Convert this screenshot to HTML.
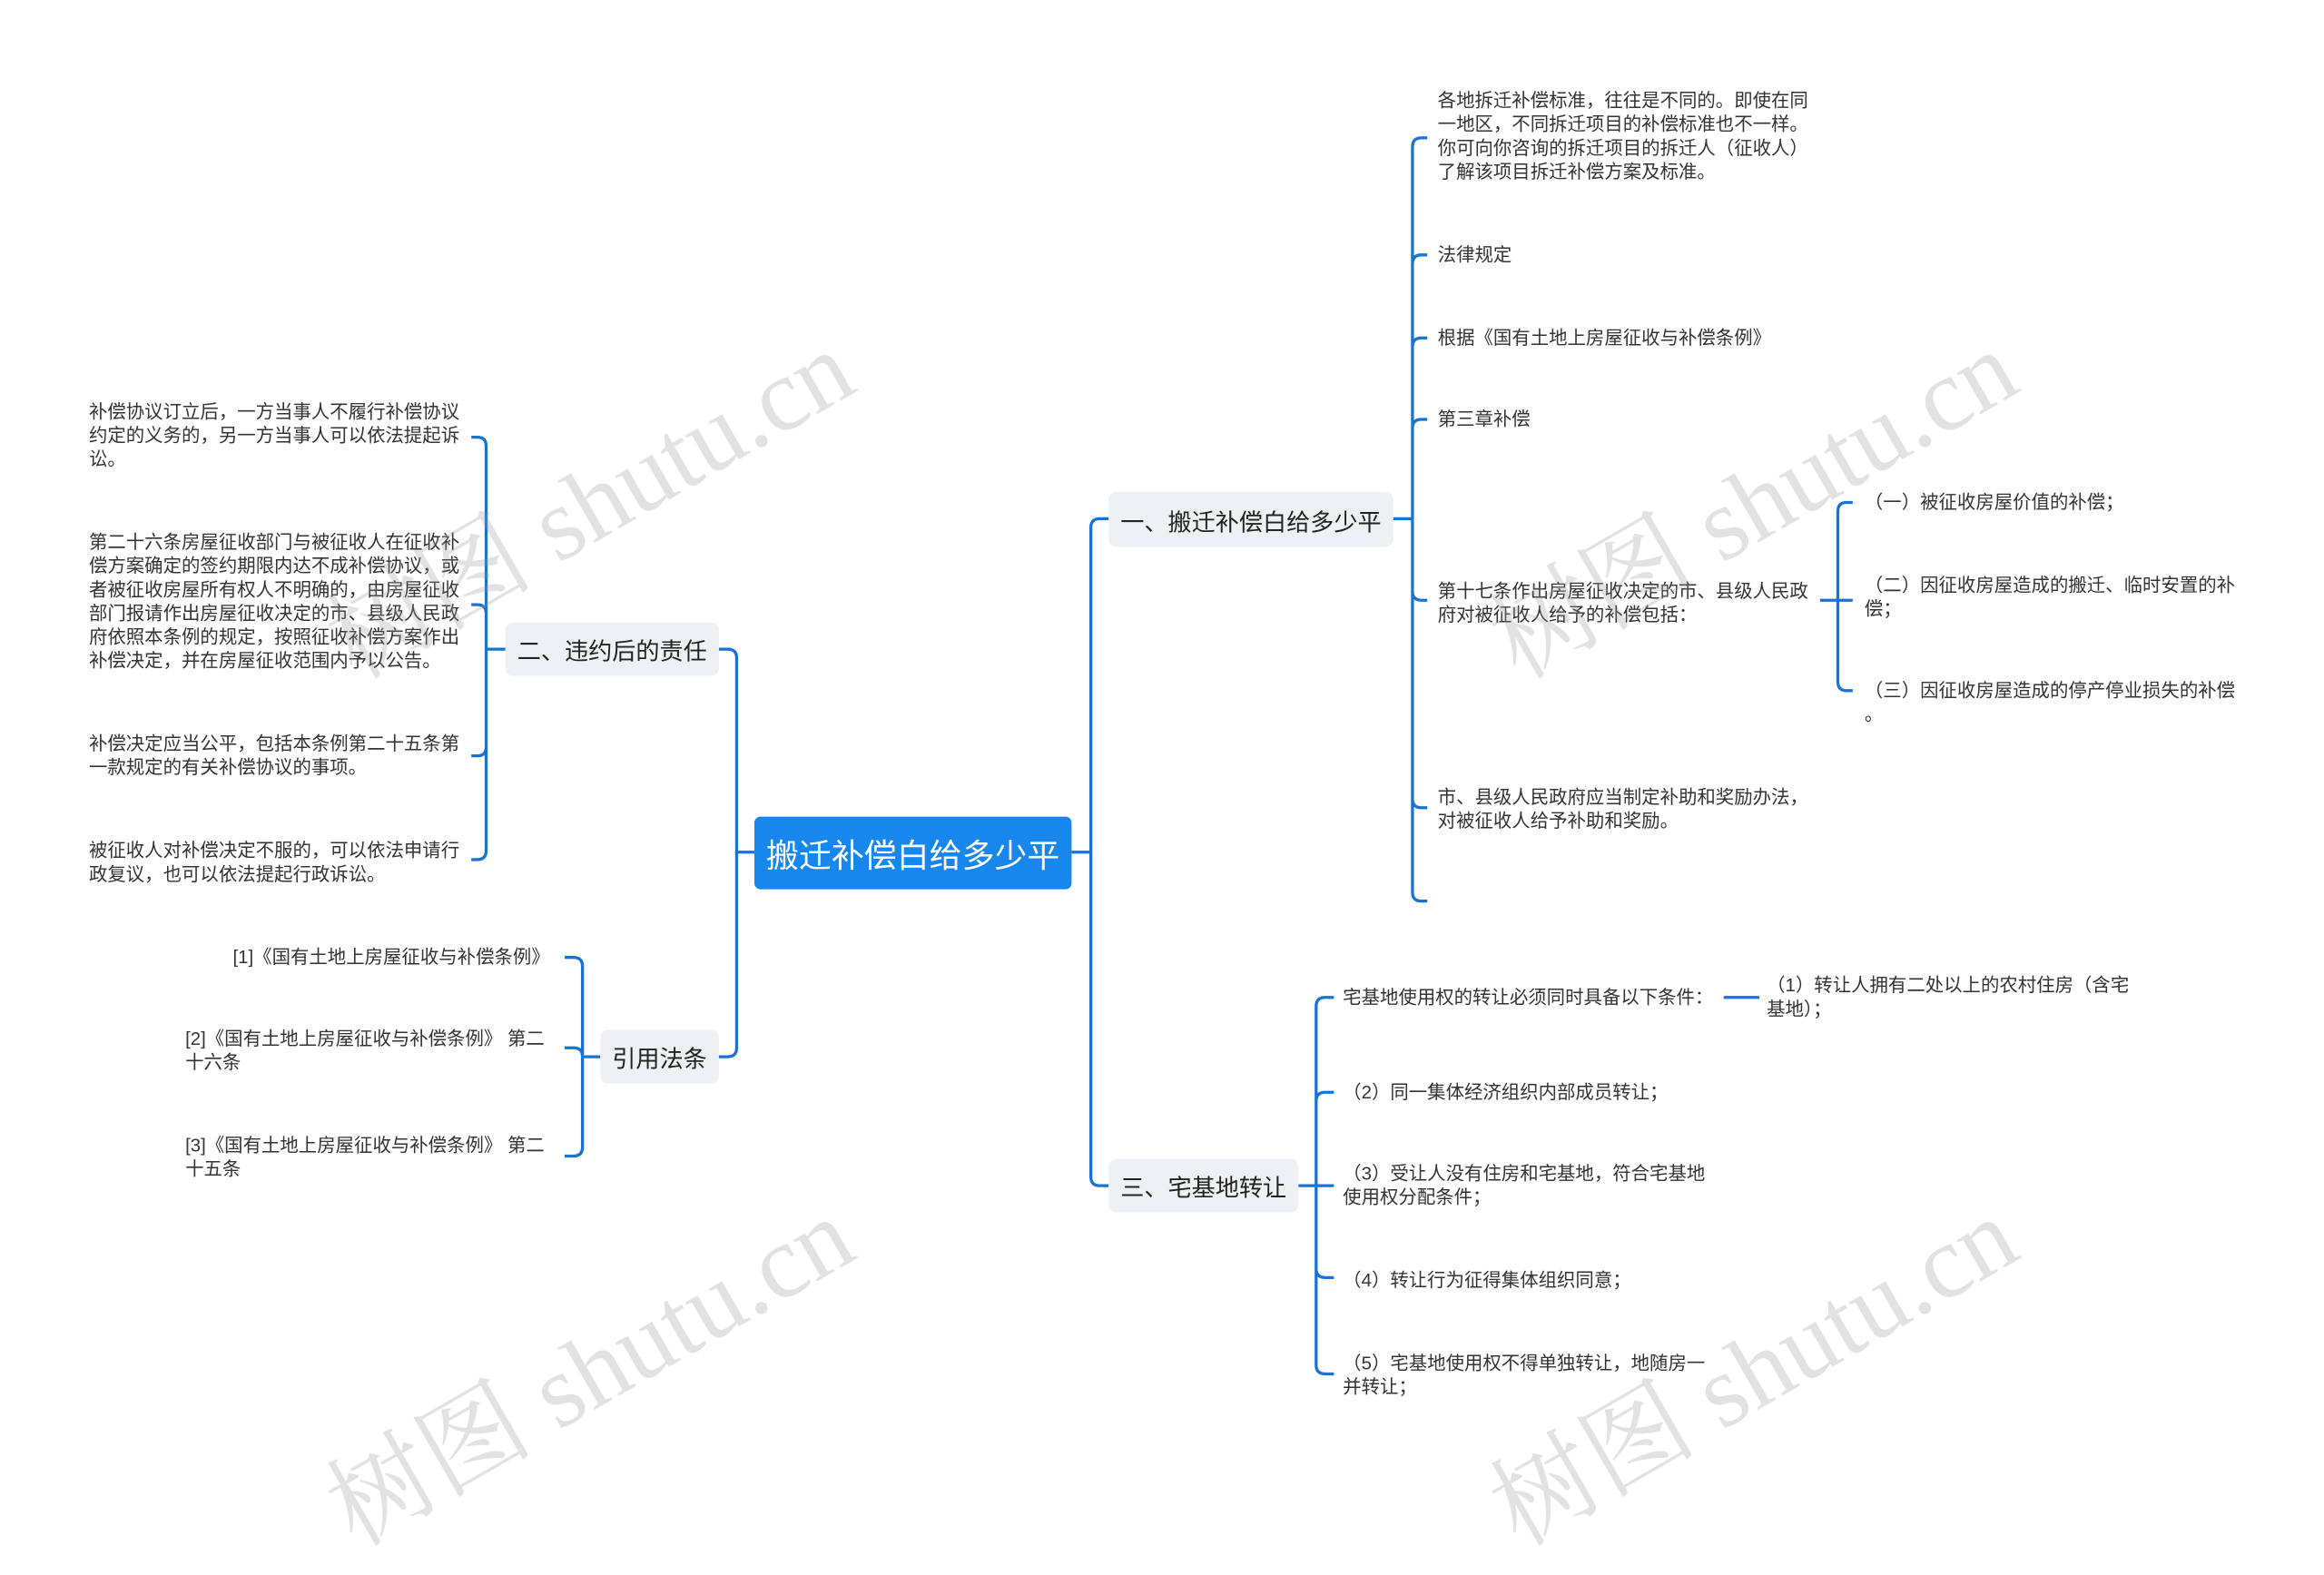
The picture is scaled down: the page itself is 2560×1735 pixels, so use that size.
<!DOCTYPE html>
<html><head><meta charset="utf-8">
<style>
html,body{margin:0;padding:0;background:#fff;}
body{width:2560px;height:1639px;overflow:hidden;position:relative;}
#w{position:absolute;left:0;top:0;width:1568px;height:1004px;transform:scale(1.63265);transform-origin:0 0;font-family:"Liberation Sans","Noto Sans CJK SC",sans-serif;color:#333;}
.t{position:absolute;font-size:12.5px;line-height:16px;white-space:nowrap;}
.r{text-align:right;}
.b{position:absolute;background:#eef0f3;border-radius:5px;font-size:16px;color:#222;display:flex;align-items:center;justify-content:center;}
.root{position:absolute;left:509px;top:551px;width:214px;height:49px;background:#1787ee;border-radius:4px;color:#fff;font-size:22px;display:flex;align-items:center;justify-content:center;}
.wm{position:absolute;font-family:"Liberation Serif","Noto Serif CJK SC",serif;font-size:70px;color:rgba(150,150,150,0.28);transform:rotate(-30deg);transform-origin:0 0;white-space:nowrap;}
svg{position:absolute;left:0;top:0;}
</style></head><body>
<div id="w">
<svg id="s" width="1568" height="1004" viewBox="0 0 1568 1004"></svg>

<div class="root">搬迁补偿白给多少平</div>
<div class="b" style="left:748px;top:332px;width:192px;height:37px;">一、搬迁补偿白给多少平</div>
<div class="b" style="left:748px;top:782px;width:128px;height:36px;">三、宅基地转让</div>
<div class="b" style="left:341px;top:420px;width:144px;height:36px;">二、违约后的责任</div>
<div class="b" style="left:405px;top:695px;width:80px;height:36px;">引用法条</div>

<div class="t" style="left:970px;top:60px;">各地拆迁补偿标准，往往是不同的。即使在同<br>一地区，不同拆迁项目的补偿标准也不一样。<br>你可向你咨询的拆迁项目的拆迁人（征收人）<br>了解该项目拆迁补偿方案及标准。</div>
<div class="t" style="left:970px;top:164px;">法律规定</div>
<div class="t" style="left:970px;top:220px;">根据《国有土地上房屋征收与补偿条例》</div>
<div class="t" style="left:970px;top:275px;">第三章补偿</div>
<div class="t" style="left:970px;top:391px;">第十七条作出房屋征收决定的市、县级人民政<br>府对被征收人给予的补偿包括：</div>
<div class="t" style="left:970px;top:530px;">市、县级人民政府应当制定补助和奖励办法，<br>对被征收人给予补助和奖励。</div>
<div class="t" style="left:1258px;top:331px;">（一）被征收房屋价值的补偿；</div>
<div class="t" style="left:1258px;top:387px;">（二）因征收房屋造成的搬迁、临时安置的补<br>偿；</div>
<div class="t" style="left:1258px;top:458px;">（三）因征收房屋造成的停产停业损失的补偿<br>。</div>

<div class="t" style="left:906px;top:665px;">宅基地使用权的转让必须同时具备以下条件：</div>
<div class="t" style="left:1192px;top:657px;">（1）转让人拥有二处以上的农村住房（含宅<br>基地）；</div>
<div class="t" style="left:906px;top:729px;">（2）同一集体经济组织内部成员转让；</div>
<div class="t" style="left:906px;top:784px;">（3）受让人没有住房和宅基地，符合宅基地<br>使用权分配条件；</div>
<div class="t" style="left:906px;top:856px;">（4）转让行为征得集体组织同意；</div>
<div class="t" style="left:906px;top:912px;">（5）宅基地使用权不得单独转让，地随房一<br>并转让；</div>

<div class="t" style="left:60px;top:270px;">补偿协议订立后，一方当事人不履行补偿协议<br>约定的义务的，另一方当事人可以依法提起诉<br>讼。</div>
<div class="t" style="left:60px;top:358px;">第二十六条房屋征收部门与被征收人在征收补<br>偿方案确定的签约期限内达不成补偿协议，或<br>者被征收房屋所有权人不明确的，由房屋征收<br>部门报请作出房屋征收决定的市、县级人民政<br>府依照本条例的规定，按照征收补偿方案作出<br>补偿决定，并在房屋征收范围内予以公告。</div>
<div class="t" style="left:60px;top:494px;">补偿决定应当公平，包括本条例第二十五条第<br>一款规定的有关补偿协议的事项。</div>
<div class="t" style="left:60px;top:566px;">被征收人对补偿决定不服的，可以依法申请行<br>政复议，也可以依法提起行政诉讼。</div>

<div class="t r" style="right:1197px;top:638px;">[1]《国有土地上房屋征收与补偿条例》</div>
<div class="t" style="left:125px;top:693px;">[2]《国有土地上房屋征收与补偿条例》 第二<br>十六条</div>
<div class="t" style="left:125px;top:765px;">[3]《国有土地上房屋征收与补偿条例》 第二<br>十五条</div>

<div class="wm" style="left:200px;top:390px;">树图 shutu.cn</div>
<div class="wm" style="left:985px;top:390px;">树图 shutu.cn</div>
<div class="wm" style="left:200px;top:975px;">树图 shutu.cn</div>
<div class="wm" style="left:985px;top:975px;">树图 shutu.cn</div>
</div>
<script>
var s=document.getElementById('s'),d='';
function br(P,yp,T,C,ys){var dir=C>T?1:-1,r=6;ys.forEach(function(y){d+='M'+P+' '+yp+' H'+T;if(Math.abs(y-yp)<1){d+=' H'+C;}else{var sg=y>yp?1:-1;d+=' V'+(y-sg*r)+' Q'+T+' '+y+' '+(T+dir*r)+' '+y+' H'+C;}d+=' ';});}
br(723,575,736,748,[350,800]);
br(509,575,497,485,[438,713]);
br(940,350,953,963,[93,172,228,283,405,545,608]);
br(1228,405,1240,1250,[339,405,466]);
br(876,800,888,900,[673,737,800,862,927]);
br(341,438,328,318,[295,408,510,580]);
br(405,713,393,381,[646,707,780]);
d+='M1163 673 H1187';
var p=document.createElementNS('http://www.w3.org/2000/svg','path');
p.setAttribute('d',d);p.setAttribute('fill','none');p.setAttribute('stroke','#1a73d2');p.setAttribute('stroke-width','2');
s.appendChild(p);
</script>
</body></html>
